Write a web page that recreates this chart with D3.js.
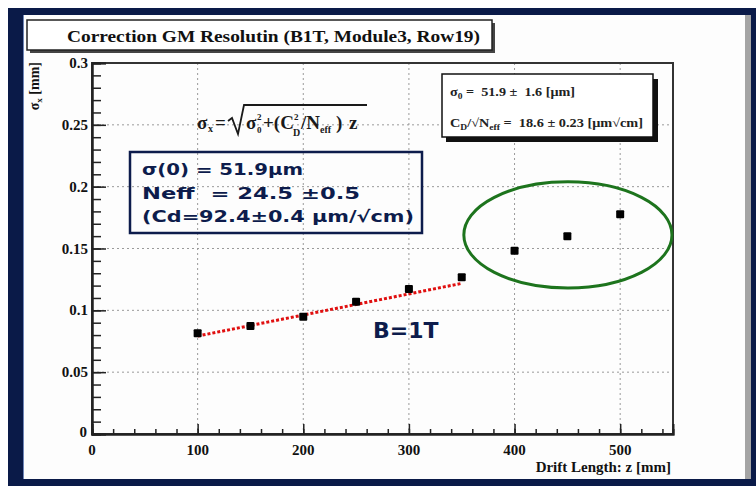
<!DOCTYPE html>
<html>
<head>
<meta charset="utf-8">
<script src="https://cdn.jsdelivr.net/npm/d3@7"></script>
<style>
  body { margin: 0; background: #fff; }
  text { white-space: pre; }
</style>
</head>
<body>
<script>
'use strict';

// measured points: drift length z [mm] vs sigma_x [mm]
const zVals = [100, 150, 200, 250, 300, 350, 400, 450, 500];
const sigmaVals = [0.0814, 0.0873, 0.0948, 0.1070, 0.1172, 0.1267, 0.1482, 0.1600, 0.1776];

// fit line (red dotted) end points
const fitZ = [100, 350];
const fitSigma = [0.0792, 0.1218];

// axis ticks
const xTicks = [0, 100, 200, 300, 400, 500];
const xMinor = d3.range(0, 551, 20);
const yTicks = [0, 0.05, 0.1, 0.15, 0.2, 0.25, 0.3];
const yMinor = d3.range(0, 0.3001, 0.01);

// text blocks
const titleText = 'Correction GM Resolutin (B1T, Module3, Row19)';
const boxLines = ['σ(0) = 51.9μm', 'Neff  = 24.5 ±0.5', '(Cd=92.4±0.4 μm/√cm)'];
const navy = '#0d1c4c';

const m = { left: 92, right: 673, top: 63, bottom: 434 };

const svg = d3.select('body')
  .append('svg')
  .attr('width', 756)
  .attr('height', 486);

// dark frame + white panel
svg.append('rect').attr('x', 0).attr('y', 0).attr('width', 756).attr('height', 486).attr('fill', '#fff');
svg.append('rect').attr('x', 8).attr('y', 8).attr('width', 748).attr('height', 478).attr('fill', '#0a1a48');
svg.append('rect').attr('x', 23).attr('y', 15).attr('width', 726).attr('height', 464).attr('fill', '#fdfdfd');
svg.append('rect').attr('x', 745).attr('y', 15).attr('width', 6).attr('height', 464).attr('fill', '#a4a4a4');
svg.append('line').attr('x1', 23.5).attr('x2', 23.5).attr('y1', 15).attr('y2', 479)
  .attr('stroke', '#6f86b8').attr('stroke-width', 1);

const xScale = d3.scaleLinear().domain([0, 550]).range([m.left, m.right]);
const yScale = d3.scaleLinear().domain([0, 0.3]).range([m.bottom, m.top]);

// dotted grid
svg.append('g').selectAll('line').data(xTicks.slice(1))
  .enter().append('line')
  .attr('x1', d => xScale(d)).attr('x2', d => xScale(d))
  .attr('y1', m.top).attr('y2', m.bottom)
  .attr('stroke', '#9a9a9a').attr('stroke-dasharray', '2,3');
svg.append('g').selectAll('line').data(yTicks.slice(1, -1))
  .enter().append('line')
  .attr('x1', m.left).attr('x2', m.right)
  .attr('y1', d => yScale(d)).attr('y2', d => yScale(d))
  .attr('stroke', '#9a9a9a').attr('stroke-dasharray', '2,3');

// frame
svg.append('rect')
  .attr('x', m.left).attr('y', m.top)
  .attr('width', m.right - m.left).attr('height', m.bottom - m.top)
  .attr('fill', 'none').attr('stroke', '#333').attr('stroke-width', 2);

// axes drawn with d3 axis generators, ticks pointing inward
const xAxis = d3.axisTop(xScale).tickValues(xMinor).tickSize(5).tickFormat('');
svg.append('g').attr('transform', 'translate(0,' + m.bottom + ')').call(xAxis);
const xAxisMajor = d3.axisTop(xScale).tickValues(xTicks).tickSize(10).tickFormat('');
svg.append('g').attr('transform', 'translate(0,' + m.bottom + ')').call(xAxisMajor);

const yAxis = d3.axisRight(yScale).tickValues(yMinor).tickSize(9).tickFormat('');
svg.append('g').attr('transform', 'translate(' + m.left + ',0)').call(yAxis);
const yAxisMajor = d3.axisRight(yScale).tickValues(yTicks).tickSize(14).tickFormat('');
svg.append('g').attr('transform', 'translate(' + m.left + ',0)').call(yAxisMajor);

svg.selectAll('.domain').attr('stroke', '#222').attr('stroke-width', 2);
svg.selectAll('.tick line').attr('stroke', '#222').attr('stroke-width', 1.5);

// tick labels
svg.append('g').selectAll('text').data(xTicks)
  .enter().append('text')
  .attr('x', d => xScale(d))
  .attr('y', 455)
  .attr('text-anchor', 'middle')
  .style('font', 'bold 15px "Liberation Serif", serif')
  .attr('fill', '#111')
  .text(d => d);

svg.append('g').selectAll('text').data(yTicks)
  .enter().append('text')
  .attr('x', d => d === 0 ? 87 : 88)
  .attr('y', d => d === 0 ? yScale(d) + 3 : yScale(d) + 5)
  .attr('text-anchor', 'end')
  .style('font', 'bold 15px "Liberation Serif", serif')
  .attr('fill', '#111')
  .text(d => d);

// axis titles
svg.append('text')
  .attr('x', 671).attr('y', 472)
  .attr('text-anchor', 'end')
  .style('font', 'bold 15px "Liberation Serif", serif')
  .attr('fill', '#111')
  .text('Drift Length: z [mm]');

const yLab = svg.append('text')
  .attr('transform', 'translate(39, 62)rotate(-90)')
  .attr('text-anchor', 'end')
  .style('font', 'bold 14px "Liberation Serif", serif')
  .attr('fill', '#111');
yLab.append('tspan').text('σ');
yLab.append('tspan').attr('dy', 3).style('font-size', '9px').text('x');
yLab.append('tspan').attr('dy', -3).text(' [mm]');

// title box with shadow
svg.append('rect').attr('x', 30).attr('y', 23).attr('width', 465).attr('height', 30).attr('fill', '#444');
svg.append('rect').attr('x', 27).attr('y', 20).attr('width', 465).attr('height', 30)
  .attr('fill', '#fff').attr('stroke', '#222').attr('stroke-width', 1.5);
svg.append('text')
  .attr('x', 67).attr('y', 42)
  .attr('textLength', 413).attr('lengthAdjust', 'spacingAndGlyphs')
  .style('font', 'bold 17px "Liberation Serif", serif')
  .attr('fill', '#111')
  .text(titleText);

// stats box (top right)
svg.append('rect').attr('x', 446).attr('y', 79).attr('width', 212).attr('height', 63).attr('fill', '#111');
svg.append('rect').attr('x', 442).attr('y', 74).attr('width', 211).attr('height', 63)
  .attr('fill', '#fff').attr('stroke', '#111').attr('stroke-width', 1.5);
const st1 = svg.append('text').attr('x', 450).attr('y', 96)
  .attr('textLength', 125).attr('lengthAdjust', 'spacingAndGlyphs')
  .style('font', 'bold 12px "Liberation Serif", serif').attr('fill', '#222');
st1.append('tspan').text('σ');
st1.append('tspan').attr('dy', 3).style('font-size', '8px').text('0');
st1.append('tspan').attr('dy', -3).text(' =  51.9 ±  1.6 [μm]');
const st2 = svg.append('text').attr('x', 450).attr('y', 127)
  .attr('textLength', 193).attr('lengthAdjust', 'spacingAndGlyphs')
  .style('font', 'bold 12px "Liberation Serif", serif').attr('fill', '#222');
st2.append('tspan').text('C');
st2.append('tspan').attr('dy', 3).style('font-size', '8px').text('D');
st2.append('tspan').attr('dy', -3).text('/√N');
st2.append('tspan').attr('dy', 3).style('font-size', '8px').text('eff');
st2.append('tspan').attr('dy', -3).text(' =  18.6 ± 0.23 [μm√cm]');

// resolution formula, pieces placed one by one
function fText(x, y, s, size) {
  svg.append('text').attr('x', x).attr('y', y)
    .style('font', 'bold ' + (size || 19) + 'px "Liberation Serif", serif')
    .attr('fill', '#1a1a1a').text(s);
}
fText(197, 129, 'σ');
fText(208, 132, 'x', 10);
fText(215, 129, '=');
svg.append('path')
  .attr('d', 'M228,121 L232,118 L238,134 L244,105 L367,105')
  .attr('fill', 'none').attr('stroke', '#1a1a1a').attr('stroke-width', 1.8);
fText(246, 129, 'σ');
fText(257, 120, '2', 9);
fText(257, 133, '0', 9);
fText(263, 129, '+(C');
fText(294, 120, '2', 9);
fText(293, 136, 'D', 10);
fText(301, 129, '/N');
fText(320, 133, 'eff', 10);
fText(336, 129, ')');
fText(349, 129, 'z');

// blue annotation box
svg.append('rect').attr('x', 130).attr('y', 152).attr('width', 292).attr('height', 81)
  .attr('fill', 'none').attr('stroke', navy).attr('stroke-width', 2.5);
const lineLens = [161, 218, 272];
svg.append('g').selectAll('text').data(boxLines)
  .enter().append('text')
  .attr('x', 142)
  .attr('y', (d, i) => 175 + i * 23.5)
  .attr('textLength', (d, i) => lineLens[i])
  .attr('lengthAdjust', 'spacingAndGlyphs')
  .style('font', 'bold 16px "DejaVu Sans", sans-serif')
  .attr('fill', navy)
  .text(d => d);

// fit line
const fitData = fitZ.map((z, i) => ({ z: z, s: fitSigma[i] }));
const line = d3.line().x(d => xScale(d.z)).y(d => yScale(d.s));
svg.append('path')
  .datum(fitData)
  .attr('d', line)
  .attr('fill', 'none')
  .attr('stroke', '#e01010')
  .attr('stroke-width', 3)
  .attr('stroke-dasharray', '3,2');

// data points
const pts = zVals.map((z, i) => ({ z: z, s: sigmaVals[i] }));
svg.append('g').selectAll('rect').data(pts)
  .enter().append('rect')
  .attr('x', d => xScale(d.z) - 4)
  .attr('y', d => yScale(d.s) - 4)
  .attr('width', 8).attr('height', 8)
  .attr('rx', 1)
  .attr('fill', '#000');

// B=1T label
svg.append('text')
  .attr('x', 373).attr('y', 338)
  .style('font', 'bold 22px "DejaVu Sans", sans-serif')
  .attr('fill', navy)
  .text('B=1T');

// green ellipse round the last three points
svg.append('ellipse')
  .attr('cx', xScale(450.5))
  .attr('cy', yScale(0.161))
  .attr('rx', xScale(98.5) - xScale(0))
  .attr('ry', yScale(0) - yScale(0.0429))
  .attr('fill', 'none')
  .attr('stroke', '#1d741d')
  .attr('stroke-width', 3);
</script>
</body>
</html>
